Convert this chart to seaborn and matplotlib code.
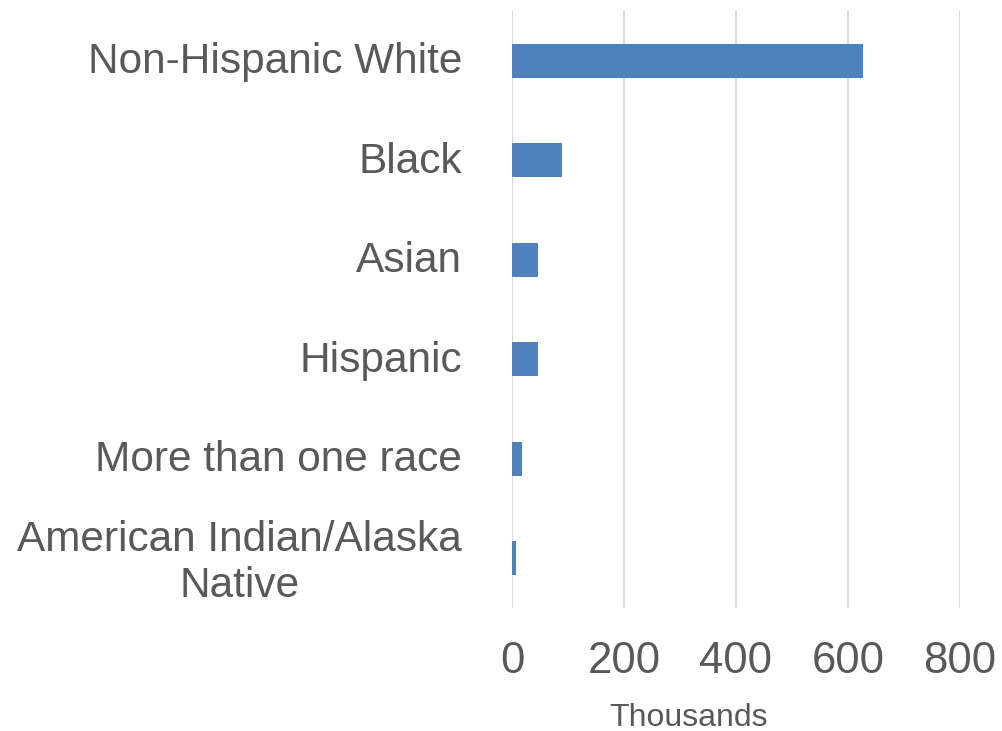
import matplotlib
matplotlib.use("Agg")
import matplotlib.pyplot as plt
import matplotlib.transforms as mtransforms
import seaborn as sns
import pandas as pd

categories = ["Non-Hispanic White", "Black", "Asian", "Hispanic",
              "More than one race", "American Indian/Alaska\nNative"]
values = [627, 90, 47, 47, 18, 8]
xticks = [0, 200, 400, 600, 800]

sns.set_theme(style="white")
plt.rcParams["font.family"] = ["Liberation Sans", "DejaVu Sans"]

df = pd.DataFrame({"group": categories, "value": values})

fig = plt.figure(figsize=(10.02, 7.31), dpi=100)
ax = fig.add_axes([512 / 1002, 1 - 608 / 731, (960 - 512) / 1002, (608 - 11) / 731])

sns.barplot(data=df, y="group", x="value", orient="h", color="#4f81bd",
            saturation=1, width=0.345, ax=ax, edgecolor="none")

ax.set_xlim(0, 800)
ax.set_ylim(5.5, -0.5)
ax.set_xticks(xticks)
ax.set_xticklabels([str(t) for t in xticks])
ax.xaxis.grid(True, color="#d9d9d9", linewidth=1.5)
ax.set_axisbelow(True)
for s in ax.spines.values():
    s.set_visible(False)
ax.tick_params(axis="y", length=0, labelsize=30.5, labelcolor="#595959", pad=36)
ax.tick_params(axis="x", length=0, labelsize=31.5, labelcolor="#595959", pad=24)
offset = mtransforms.ScaledTranslation(0, 3 / 100, fig.dpi_scale_trans)
for lab in ax.get_yticklabels():
    lab.set_multialignment("center")
    lab.set_transform(lab.get_transform() + offset)
ax.set_ylabel("")
ax.set_xlabel("Thousands", fontsize=23, color="#595959")
ax.xaxis.set_label_coords((689 - 512) / 448, -(718 - 608) / 597, transform=ax.transAxes)
ax.xaxis.label.set_va("center")

fig.savefig("out.png", dpi=100)
